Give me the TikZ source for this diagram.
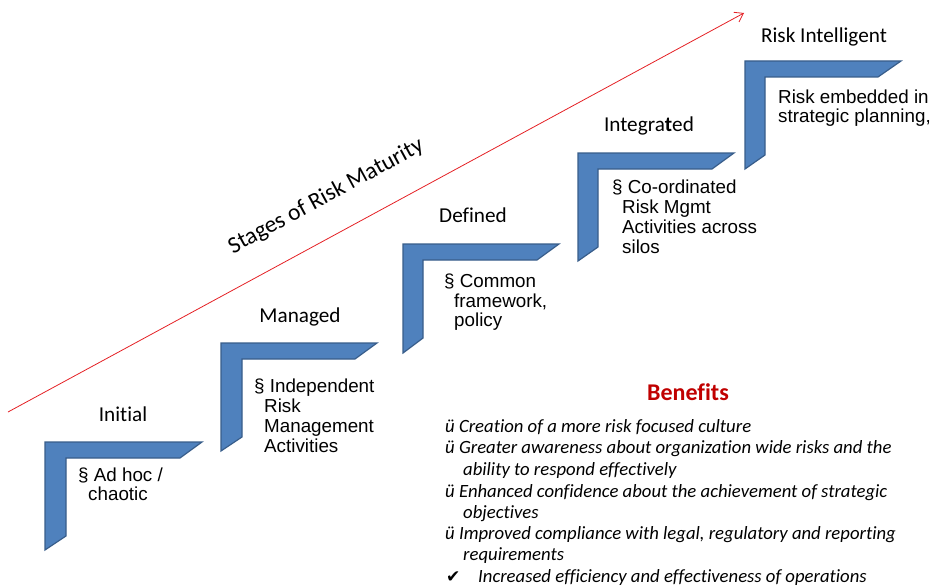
\documentclass[tikz,border=0pt]{standalone}
\usepackage{fontspec}
\setmainfont{Carlito}[Ligatures=NoCommon]
\newfontfamily\arialfont{Liberation Sans}
\newfontfamily\checkfont{DejaVu Sans}
\usetikzlibrary{arrows.meta}
\definecolor{stepblue}{HTML}{4F81BD}
\definecolor{stepedge}{HTML}{385D8A}
\definecolor{benefitred}{HTML}{C00000}
\definecolor{arrowred}{RGB}{228,32,36}

\begin{document}
\begin{tikzpicture}[x=1pt,y=-1pt,
	stepbar/.style={fill=stepblue,draw=stepedge,line width=1.2pt,line join=miter},
	stage/.style={anchor=base,font=\fontsize{21.2}{25}\selectfont,inner sep=0pt},
	desc/.style={anchor=base west,font=\arialfont\fontsize{18.8}{20}\selectfont,inner sep=0pt},
	benefit/.style={anchor=base west,font=\itshape\fontsize{18.7}{21}\selectfont,inner sep=0pt}]
	\useasboundingbox (0,0) rectangle (930,586);
	% rising arrow
	\coordinate (low) at (8,412);
	\coordinate (high) at (744,13);
	\draw[arrowred,line width=0.8pt,-{Straight Barb[length=8pt,width=11pt]}] (low)--(high);
	\draw (329,202) node[rotate=28.5,anchor=base,font=\fontsize{23.5}{28}\selectfont,inner sep=0pt] (maturity){Stages of Risk Maturity};
	% steps
	\draw[stepbar,shift={(45,442)}] (0,0)--(157,0)--(135,16)--(21,16)--(21,94)--(0,108)--cycle;
	\draw[stepbar,shift={(221,343)}] (0,0)--(156,0)--(134,16)--(21,16)--(21,94)--(0,108)--cycle;
	\draw[stepbar,shift={(403,244)}] (0,0)--(156,0)--(134,16)--(20,16)--(20,94)--(0,109)--cycle;
	\draw[stepbar,shift={(578,153)}] (0,0)--(156,0)--(134,16)--(20,16)--(20,94)--(0,108)--cycle;
	\draw[stepbar,shift={(745,61)}] (0,0)--(156,0)--(133,16)--(20,16)--(20,94)--(0,108)--cycle;
	% stage names
	\node[stage] (initial) at (123,421) {Initial};
	\node[stage] (managed) at (300,322.7) {Managed};
	\node[stage] (defined) at (473,222.7) {Defined};
	\node[stage] (integrated) at (649,131.7) {Integra\textbf{t}ed};
	\node[stage] (intelligent) at (824,43) {Risk Intelligent};
	% descriptions
	\node[desc] (adhoc1) at (78,481) {§ Ad hoc /};
	\node[desc] (adhoc2) at (88,500) {chaotic};
	\node[desc] (indep1) at (254,392.7) {§ Independent};
	\node[desc] (indep2) at (264,412.3) {Risk};
	\node[desc] (indep3) at (264,432.7) {Management};
	\node[desc] (indep4) at (264,452) {Activities};
	\node[desc] (common1) at (444,287.3) {§ Common};
	\node[desc] (common2) at (454,307) {framework,};
	\node[desc] (common3) at (454,326.7) {policy};
	\node[desc] (coord1) at (612,193) {§ Co-ordinated};
	\node[desc] (coord2) at (622,213) {Risk Mgmt};
	\node[desc] (coord3) at (622,233) {Activities across};
	\node[desc] (coord4) at (622,253) {silos};
	\node[desc] (embed1) at (778,103) {Risk embedded in};
	\node[desc] (embed2) at (778,123) {strategic planning,};
	% benefits
	\node[anchor=base,font=\bfseries\fontsize{24}{28}\selectfont,text=benefitred,inner sep=0pt] (benefits) at (688,400) {Benefits};
	\node[benefit] (ben1) at (445,432) {ü Creation of a more risk focused culture};
	\node[benefit] (ben2) at (445,453) {ü Greater awareness about organization wide risks and the};
	\node[benefit] (ben2b) at (463,475) {ability to respond effectively};
	\node[benefit] (ben3) at (445,497) {ü Enhanced confidence about the achievement of strategic};
	\node[benefit] (ben3b) at (463,518) {objectives};
	\node[benefit] (ben4) at (445,539) {ü Improved compliance with legal, regulatory and reporting};
	\node[benefit] (ben4b) at (463,560) {requirements};
	\node[anchor=base west,font=\checkfont\fontsize{17}{20}\selectfont,inner sep=0pt] (tick) at (446,582) {✔};
	\node[benefit] (ben5) at (478,582) {Increased efficiency and effectiveness of operations};
\end{tikzpicture}
\end{document}
